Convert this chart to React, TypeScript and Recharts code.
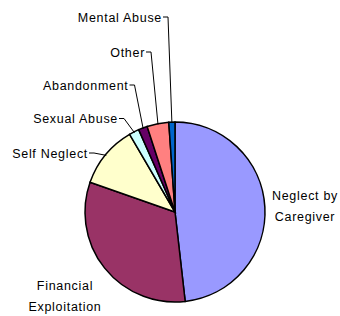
import { Cell, Pie, PieChart } from "recharts";

const categories = [
  "Neglect by Caregiver",
  "Financial Exploitation",
  "Self Neglect",
  "Sexual Abuse",
  "Abandonment",
  "Other",
  "Mental Abuse",
];
const shares = [48.1, 32.1, 11.2, 1.8, 1.6, 3.9, 1.1];
const colors = ["#9999FF", "#993366", "#FFFFCC", "#CCFFFF", "#660066", "#FF8080", "#0066CC"];

const data = categories.map((name, i) => ({ name, value: shares[i] }));

// hand placed label boxes, like the original sheet
const labelLayout: Record<
  string,
  { x: number; y: number; anchor: "start" | "middle" | "end"; lines: string[]; leader: boolean }
> = {
  "Neglect by Caregiver": { x: 305, y: 200, anchor: "middle", lines: ["Neglect by", "Caregiver"], leader: false },
  "Financial Exploitation": { x: 65, y: 290, anchor: "middle", lines: ["Financial", "Exploitation"], leader: false },
  "Self Neglect": { x: 88, y: 157.5, anchor: "end", lines: ["Self Neglect"], leader: true },
  "Sexual Abuse": { x: 118, y: 123, anchor: "end", lines: ["Sexual Abuse"], leader: true },
  Abandonment: { x: 128.5, y: 89.5, anchor: "end", lines: ["Abandonment"], leader: true },
  Other: { x: 145, y: 56.5, anchor: "end", lines: ["Other"], leader: true },
  "Mental Abuse": { x: 162, y: 21.5, anchor: "end", lines: ["Mental Abuse"], leader: true },
};

const RAD = Math.PI / 180;

function renderLabel(props: any) {
  const { cx, cy, midAngle, outerRadius, name } = props;
  const layout = labelLayout[name];
  if (!layout) return null;
  const px = cx + (outerRadius - 1) * Math.cos(-midAngle * RAD);
  const py = cy + (outerRadius - 1) * Math.sin(-midAngle * RAD);
  const tickY = layout.y - 4.5;
  return (
    <g>
      {layout.leader && (
        <polyline
          points={`${layout.x + 1},${tickY} ${layout.x + 6},${tickY} ${px},${py}`}
          fill="none"
          stroke="#000"
          strokeWidth={1}
        />
      )}
      {layout.lines.map((line, i) => (
        <text
          key={line}
          x={layout.x}
          y={layout.y + i * 21}
          textAnchor={layout.anchor}
          fill="#000"
          fontSize={12.5}
          letterSpacing={0.7}
          fontFamily="'Liberation Sans', Arial, sans-serif"
        >
          {line}
        </text>
      ))}
    </g>
  );
}

export default function App() {
  return (
    <div style={{ position: "absolute", left: 0, top: 0, width: 340, height: 316, background: "#fff" }}>
      <PieChart width={340} height={316} margin={{ top: 0, right: 0, bottom: 0, left: 0 }}>
        <Pie
          data={data}
          dataKey="value"
          nameKey="name"
          cx={175}
          cy={212}
          outerRadius={90}
          startAngle={90}
          endAngle={-270}
          stroke="#000"
          strokeWidth={1.5}
          label={renderLabel}
          labelLine={false}
          isAnimationActive={false}
        >
          {data.map((d, i) => (
            <Cell key={d.name} fill={colors[i]} />
          ))}
        </Pie>
      </PieChart>
    </div>
  );
}
